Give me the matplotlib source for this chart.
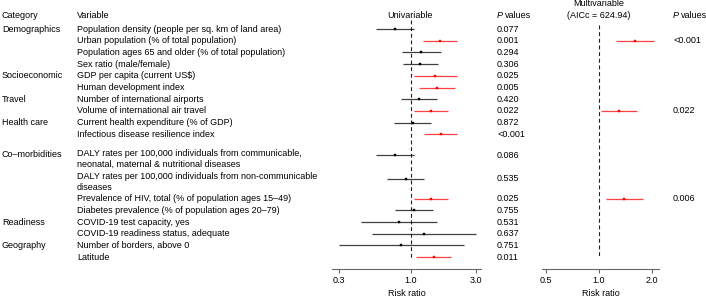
import numpy as np
import matplotlib.pyplot as plt

plt.rcParams['font.family'] = ['Liberation Sans', 'DejaVu Sans']

# datos
categorias = ['Demographics', '', '', '', 'Socioeconomic', '', 'Travel', '', 'Health care', '',
              'Co\u2013morbidities', '', '', '', 'Readiness', '', 'Geography', '']
variables = [
    'Population density (people per sq. km of land area)',
    'Urban population (% of total population)',
    'Population ages 65 and older (% of total population)',
    'Sex ratio (male/female)',
    'GDP per capita (current US$)',
    'Human development index',
    'Number of international airports',
    'Volume of international air travel',
    'Current health expenditure (% of GDP)',
    'Infectious disease resilience index',
    'DALY rates per 100,000 individuals from communicable,\nneonatal, maternal & nutritional diseases',
    'DALY rates per 100,000 individuals from non-communicable\ndiseases',
    'Prevalence of HIV, total (% of population ages 15\u201349)',
    'Diabetes prevalence (% of population ages 20\u201379)',
    'COVID-19 test capacity, yes',
    'COVID-19 readiness status, adequate',
    'Number of borders, above 0',
    'Latitude',
]
rr_uni = [0.76, 1.63, 1.19, 1.17, 1.51, 1.55, 1.14, 1.40, 1.03, 1.65,
          0.77, 0.92, 1.40, 1.06, 0.82, 1.24, 0.84, 1.47]
lo_uni = [0.56, 1.22, 0.86, 0.87, 1.06, 1.15, 0.84, 1.06, 0.75, 1.25,
          0.56, 0.67, 1.05, 0.77, 0.43, 0.52, 0.30, 1.09]
hi_uni = [1.05, 2.17, 1.66, 1.58, 2.17, 2.11, 1.55, 1.86, 1.40, 2.17,
          1.05, 1.24, 1.86, 1.44, 1.55, 2.98, 2.45, 1.97]
p_uni = ['0.077', '0.001', '0.294', '0.306', '0.025', '0.005', '0.420', '0.022', '0.872', '<0.001',
         '0.086', '0.535', '0.025', '0.755', '0.531', '0.637', '0.751', '0.011']
sig_uni = [False, True, False, False, True, True, False, True, False, True,
           False, False, True, False, False, False, False, True]

# multivariable: indices de filas
multi_idx = [1, 7, 12]
rr_multi = [1.59, 1.30, 1.39]
lo_multi = [1.24, 1.03, 1.10]
hi_multi = [2.05, 1.65, 1.78]
p_multi = ['<0.001', '0.022', '0.006']

# posiciones de filas (pixeles desde arriba)
salto = [0, 1, 1, 1, 1, 1, 1, 1, 1, 1, 1.8, 2.0, 1.7, 1, 1, 1, 1, 1]
paso = 11.7
row_y = 29 + paso * np.cumsum(salto)

W, H = 706, 297
fig = plt.figure(figsize=(W / 100, H / 100), dpi=100)

bg = fig.add_axes([0, 0, 1, 1])
bg.set_xlim(0, W)
bg.set_ylim(H, 0)
bg.axis('off')

fs = 6.5


def p_header(x, y):
    bg.text(x, y, 'P', fontsize=fs, va='center', style='italic')
    bg.text(x + 8, y, 'values', fontsize=fs, va='center')


bg.text(2, 15, 'Category', fontsize=fs, va='center')
bg.text(77, 15, 'Variable', fontsize=fs, va='center')
bg.text(410, 15, 'Univariable', fontsize=fs, va='center', ha='center')
p_header(497, 15)
bg.text(599, 4, 'Multivariable', fontsize=fs, va='center', ha='center')
bg.text(599, 15, '(AICc = 624.94)', fontsize=fs, va='center', ha='center')
p_header(673, 15)

for i, y in enumerate(row_y):
    if categorias[i]:
        bg.text(2, y - 1 if '\n' in variables[i] else y, categorias[i], fontsize=fs, va='center')
    if '\n' in variables[i]:
        bg.text(77, y - 6.5, variables[i], fontsize=fs, va='top', linespacing=1.25)
    else:
        bg.text(77, y, variables[i], fontsize=fs, va='center')
    bg.text(497, y, p_uni[i], fontsize=fs, va='center')

for k, i in enumerate(multi_idx):
    bg.text(673, row_y[i], p_multi[k], fontsize=fs, va='center')

y_bot, y_top = 269, 18


def panel(x0, x1, rr, lo, hi, ys, sig, ticks, xlim, dash_top, dash_bot):
    ax = fig.add_axes([x0 / W, (H - y_bot) / H, (x1 - x0) / W, (y_bot - y_top) / H])
    ax.set_xscale('log')
    ax.set_xlim(*xlim)
    ax.set_ylim(y_bot, y_top)
    ax.patch.set_alpha(0)
    for s in ['top', 'right', 'left']:
        ax.spines[s].set_visible(False)
    ax.spines['bottom'].set_color('#666666')
    ax.spines['bottom'].set_linewidth(0.8)
    ax.set_yticks([])
    ax.xaxis.set_minor_locator(plt.NullLocator())
    ax.set_xticks(ticks)
    ax.set_xticklabels(['%.1f' % t for t in ticks])
    ax.tick_params(axis='x', labelsize=fs, length=3, width=0.8, color='#666666', pad=2)
    ax.set_xlabel('Risk ratio', fontsize=fs, labelpad=3)
    ax.plot([1, 1], [dash_top, dash_bot], color='#222222', lw=0.8, dashes=(3.5, 2.5))
    for j in range(len(rr)):
        c = '#ff0000' if sig[j] else '#000000'
        ax.plot([lo[j], hi[j]], [ys[j], ys[j]], color=c, lw=0.9, alpha=0.75, solid_capstyle='butt')
        ax.plot(rr[j], ys[j], marker='s', ms=1.8, color=c, mec=c, mew=0.3)
    return ax


panel(332, 481, rr_uni, lo_uni, hi_uni, row_y, sig_uni, [0.3, 1.0, 3.0], (0.265, 3.25), 20, 259)
panel(542, 659, rr_multi, lo_multi, hi_multi, row_y[multi_idx], [True] * 3, [0.5, 1.0, 2.0],
      (0.474, 2.19), 25, 257)

plt.savefig('out.png', dpi=100)
